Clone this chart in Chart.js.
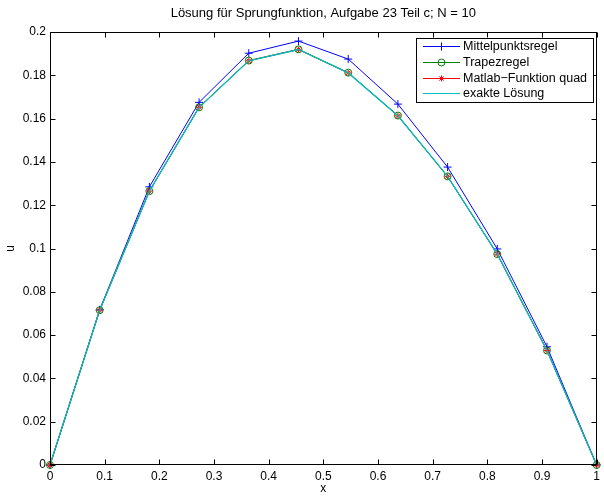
<!DOCTYPE html>
<html>
<head>
<meta charset="utf-8">
<script src="https://cdn.jsdelivr.net/npm/chart.js@4/dist/chart.umd.min.js"></script>
<style>
  html, body { margin: 0; padding: 0; background: #fff; }
  #wrap { width: 604px; height: 497px; }
</style>
</head>
<body>
<div id="wrap"><canvas id="myChart" width="604" height="497"></canvas></div>
<script>
// x grid, N = 10 -> 12 nodes
const xNodes = [0, 0.0909, 0.1818, 0.2727, 0.3636, 0.4545, 0.5455, 0.6364, 0.7273, 0.8182, 0.9091, 1];

const mittelpunkt = [0, 0.0717, 0.1285, 0.1675, 0.1902, 0.1958, 0.1875, 0.1667, 0.1376, 0.0998, 0.0546, 0];
const trapez      = [0, 0.0715, 0.1265, 0.1652, 0.1868, 0.1920, 0.1812, 0.1614, 0.1333, 0.0974, 0.0529, 0];
const quad        = [0, 0.0715, 0.1265, 0.1652, 0.1867, 0.1919, 0.1811, 0.1613, 0.1333, 0.0974, 0.0529, 0];
const exakt       = [0, 0.0715, 0.1265, 0.1652, 0.1867, 0.1919, 0.1811, 0.1613, 0.1333, 0.0974, 0.0529, 0];

const xTicks = [0, 0.1, 0.2, 0.3, 0.4, 0.5, 0.6, 0.7, 0.8, 0.9, 1];
const xTickLabels = ['0', '0.1', '0.2', '0.3', '0.4', '0.5', '0.6', '0.7', '0.8', '0.9', '1'];
const yTicks = [0, 0.02, 0.04, 0.06, 0.08, 0.1, 0.12, 0.14, 0.16, 0.18, 0.2];
const yTickLabels = ['0', '0.02', '0.04', '0.06', '0.08', '0.1', '0.12', '0.14', '0.16', '0.18', '0.2'];

const titleText = 'Lösung für Sprungfunktion, Aufgabe 23 Teil c; N = 10';
const FONT = '"Liberation Sans", Arial, Helvetica, sans-serif';

const toPoints = arr => arr.map((v, i) => ({ x: xNodes[i], y: v }));

const series = [
  { label: 'Mittelpunktsregel', data: mittelpunkt, color: '#0000ff', style: 'cross', radius: 4, width: 1, order: 4 },
  { label: 'Trapezregel', data: trapez, color: '#008000', style: 'circle', radius: 3.5, width: 1, order: 3 },
  { label: 'Matlab\u2212Funktion quad', data: quad, color: '#ff0000', style: 'star', radius: 3, width: 1, order: 2 },
  { label: 'exakte Lösung', data: exakt, color: '#00bfbf', style: false, radius: 0, width: 1.3, order: 1 },
];

// frame, inward ticks, title, legend
const matlabLook = {
  id: 'matlabLook',
  afterDraw(chart) {
    const { ctx, chartArea: a, scales } = chart;
    const L = Math.round(a.left) + 0.5, R = Math.round(a.right) - 0.5;
    const T = Math.round(a.top) + 0.5, B = Math.round(a.bottom) - 0.5;
    ctx.save();
    ctx.strokeStyle = '#000';
    ctx.lineWidth = 1;
    ctx.strokeRect(L, T, R - L, B - T);
    const tl = 5;
    ctx.beginPath();
    xTicks.forEach(v => {
      const px = Math.round(scales.x.getPixelForValue(v)) + 0.5;
      ctx.moveTo(px, B); ctx.lineTo(px, B - tl);
      ctx.moveTo(px, T); ctx.lineTo(px, T + tl);
    });
    yTicks.forEach(v => {
      const py = Math.round(scales.y.getPixelForValue(v)) + 0.5;
      ctx.moveTo(L, py); ctx.lineTo(L + tl, py);
      ctx.moveTo(R, py); ctx.lineTo(R - tl, py);
    });
    ctx.stroke();

    // title
    ctx.fillStyle = '#000';
    ctx.font = '13px ' + FONT;
    ctx.textAlign = 'center';
    ctx.textBaseline = 'middle';
    ctx.fillText(titleText, (a.left + a.right) / 2, 13);

    // legend box
    const bx = 416.5, by = 38.5, bw = 177, bh = 64;
    ctx.fillStyle = '#fff';
    ctx.fillRect(bx, by, bw, bh);
    ctx.strokeRect(bx, by, bw, bh);
    ctx.textAlign = 'left';
    ctx.font = '12.5px ' + FONT;
    const rows = [46.5, 62.5, 78.5, 93.5];
    series.forEach((s, i) => {
      const yy = rows[i];
      ctx.strokeStyle = s.color;
      ctx.lineWidth = 1;
      ctx.beginPath();
      ctx.moveTo(423, yy); ctx.lineTo(460, yy);
      ctx.stroke();
      if (s.style) {
        ctx.fillStyle = 'rgba(0,0,0,0)';
        Chart.helpers.drawPoint(ctx, { pointStyle: s.style, radius: s.radius, rotation: 0, borderWidth: 1 }, 441.5, yy);
      }
      ctx.fillStyle = '#000';
      ctx.fillText(s.label, 463, yy);
    });
    ctx.restore();
  }
};

new Chart(document.getElementById('myChart'), {
  type: 'line',
  data: {
    datasets: series.map(s => ({
      label: s.label,
      data: toPoints(s.data),
      borderColor: s.color,
      backgroundColor: s.color,
      borderWidth: s.width,
      pointStyle: s.style,
      pointRadius: s.radius,
      pointBorderColor: s.color,
      pointBackgroundColor: 'rgba(0,0,0,0)',
      pointBorderWidth: 1,
      tension: 0,
      fill: false,
      clip: false,
      order: s.order,
    })),
  },
  options: {
    responsive: false,
    animation: false,
    events: [],
    layout: { padding: { top: 32, right: 3, left: 0, bottom: 0 } },
    plugins: { legend: { display: false }, title: { display: false }, tooltip: { enabled: false } },
    scales: {
      x: {
        type: 'linear', min: 0, max: 1,
        afterBuildTicks: sc => { sc.ticks = xTicks.map(v => ({ value: v })); },
        afterFit: sc => { sc.height = 32; },
        grid: { display: false, drawTicks: false },
        border: { display: false },
        ticks: {
          color: '#000', padding: 4, maxRotation: 0, autoSkip: false,
          font: { family: FONT, size: 12 },
          callback: (v, i) => xTickLabels[i],
        },
        title: { display: true, text: 'x', color: '#000', font: { family: FONT, size: 12 }, padding: { top: 0, bottom: 1 } },
      },
      y: {
        type: 'linear', min: 0, max: 0.2,
        afterBuildTicks: sc => { sc.ticks = yTicks.map(v => ({ value: v })); },
        afterFit: sc => { sc.width = 50; },
        grid: { display: false, drawTicks: false },
        border: { display: false },
        ticks: {
          color: '#000', padding: 4, autoSkip: false,
          font: { family: FONT, size: 12 },
          callback: (v, i) => yTickLabels[i],
        },
        title: { display: true, text: 'u', color: '#000', font: { family: FONT, size: 12 }, padding: { top: 3, bottom: 0 } },
      },
    },
  },
  plugins: [matlabLook],
});
</script>
</body>
</html>
